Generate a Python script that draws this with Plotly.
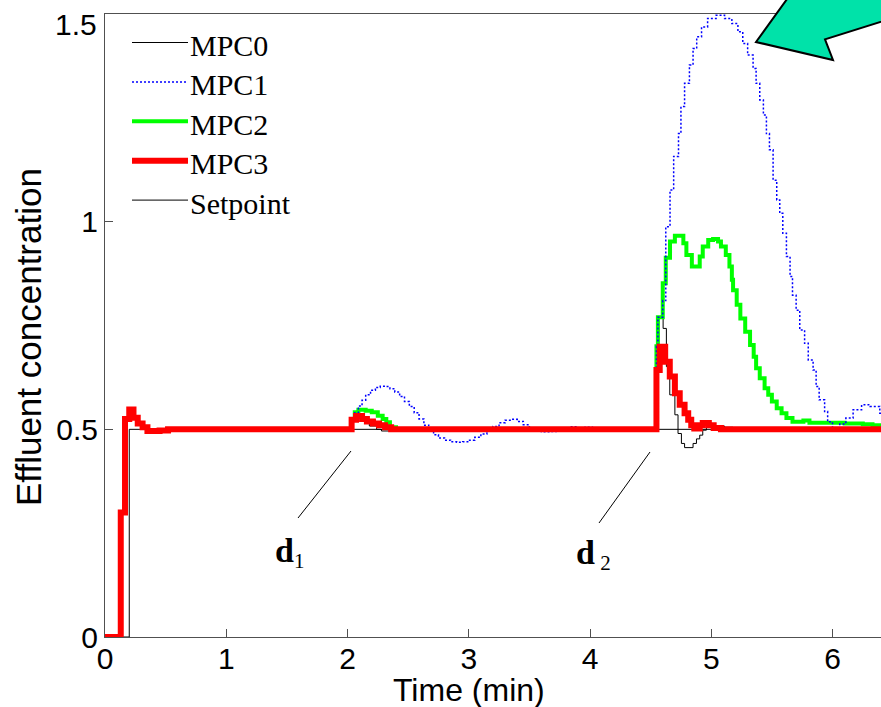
import plotly.graph_objects as go

# ---- data (time in min, effluent concentration) ----
t_setpoint = [0, 0.2, 6.4]
y_setpoint = [0, 0.5, 0.5]

t_mpc0 = [0, 0.13, 0.165, 0.2, 0.235, 0.27, 0.31, 0.35, 0.45, 0.52,
          2.034, 2.07, 2.12, 2.18, 2.24, 2.28, 2.38,
          4.548, 4.567, 4.603, 4.63, 4.658, 4.70, 4.726, 4.754, 4.78, 4.85,
          4.878, 4.905, 4.93, 4.96, 5.11, 5.18, 6.4]
y_mpc0 = [0, 0.30, 0.525, 0.548, 0.528, 0.514, 0.505, 0.496, 0.497, 0.5,
          0.525, 0.535, 0.52, 0.508, 0.5, 0.496, 0.5,
          0.643, 0.771, 0.743, 0.651, 0.583, 0.535, 0.49, 0.466, 0.456, 0.466,
          0.477, 0.486, 0.498, 0.508, 0.505, 0.5, 0.5]

t_mpc1 = [0, 0.13, 0.165, 0.2, 0.235, 0.27, 0.31, 0.35, 0.45, 0.52,
          2.034, 2.06, 2.09, 2.12, 2.15, 2.19, 2.23, 2.27, 2.31, 2.35, 2.39,
          2.43, 2.47, 2.51, 2.55, 2.59, 2.63, 2.67, 2.71, 2.75, 2.80, 2.85,
          2.90, 2.95, 3.00, 3.05, 3.10, 3.15, 3.20, 3.25, 3.30, 3.35, 3.40,
          3.45, 3.50, 3.55, 3.60, 3.66, 3.72, 3.78, 3.84, 3.90, 3.96, 4.02,
          4.548, 4.56, 4.60, 4.625, 4.66, 4.69, 4.73, 4.75, 4.78, 4.82, 4.85,
          4.88, 4.92, 4.97, 5.04, 5.11, 5.17, 5.22, 5.26, 5.30, 5.345, 5.37,
          5.40, 5.43, 5.455, 5.48, 5.51, 5.54, 5.565, 5.59, 5.62, 5.65, 5.67,
          5.70, 5.73, 5.77, 5.80, 5.84, 5.865, 5.89, 5.935, 5.96, 6.0, 6.06,
          6.11, 6.17, 6.24, 6.31, 6.39, 6.4]
y_mpc1 = [0, 0.30, 0.525, 0.548, 0.528, 0.514, 0.505, 0.496, 0.497, 0.5,
          0.525, 0.540, 0.556, 0.570, 0.583, 0.594, 0.601, 0.604, 0.603, 0.598,
          0.590, 0.579, 0.567, 0.555, 0.540, 0.525, 0.510, 0.497, 0.487, 0.479,
          0.474, 0.470, 0.469, 0.470, 0.474, 0.481, 0.489, 0.498, 0.507, 0.516,
          0.522, 0.524, 0.519, 0.511, 0.503, 0.497, 0.494, 0.495, 0.498, 0.503,
          0.506, 0.502, 0.505, 0.5,
          0.70, 0.77, 0.81, 0.988, 1.076, 1.157, 1.212, 1.277, 1.333, 1.377,
          1.417, 1.445, 1.469, 1.489, 1.497, 1.489, 1.477, 1.457, 1.429, 1.401,
          1.369, 1.333, 1.293, 1.257, 1.212, 1.173, 1.10, 1.052, 1.02, 0.972,
          0.916, 0.868, 0.823, 0.787, 0.739, 0.707, 0.667, 0.643, 0.603, 0.571,
          0.543, 0.518, 0.503, 0.513, 0.527, 0.547, 0.559, 0.555, 0.539, 0.539]

t_mpc2 = [0, 0.13, 0.165, 0.2, 0.235, 0.27, 0.31, 0.35, 0.45, 0.52,
          2.034, 2.06, 2.09, 2.15, 2.2, 2.25, 2.29, 2.32, 2.35, 2.4,
          4.548, 4.56, 4.6, 4.625, 4.66, 4.70, 4.74, 4.77, 4.795, 4.84, 4.905,
          4.93, 4.975, 5.015, 5.056, 5.08, 5.12, 5.15, 5.17, 5.18, 5.21, 5.24,
          5.28, 5.32, 5.35, 5.37, 5.40, 5.44, 5.47, 5.50, 5.54, 5.58, 5.62,
          5.67, 5.76, 5.81, 6.1, 6.25, 6.33, 6.4]
y_mpc2 = [0, 0.30, 0.525, 0.548, 0.528, 0.514, 0.505, 0.496, 0.497, 0.5,
          0.525, 0.541, 0.547, 0.545, 0.541, 0.533, 0.525, 0.517, 0.505, 0.5,
          0.70, 0.77, 0.852, 0.913, 0.952, 0.966, 0.966, 0.948, 0.92, 0.892,
          0.916, 0.94, 0.956, 0.958, 0.952, 0.94, 0.92, 0.892, 0.86, 0.835,
          0.80, 0.767, 0.735, 0.703, 0.675, 0.647, 0.623, 0.599, 0.583, 0.567,
          0.551, 0.539, 0.527, 0.518, 0.521, 0.516, 0.514, 0.512, 0.51, 0.51]

t_mpc3 = [0, 0.13, 0.165, 0.2, 0.235, 0.27, 0.31, 0.35, 0.45, 0.52,
          2.034, 2.07, 2.12, 2.16, 2.21, 2.26, 2.31, 2.36,
          4.548, 4.575, 4.62, 4.658, 4.70, 4.74, 4.78, 4.81, 4.835, 4.86,
          4.905, 4.93, 4.98, 5.02, 5.08, 6.4]
y_mpc3 = [0, 0.30, 0.525, 0.548, 0.528, 0.514, 0.505, 0.496, 0.497, 0.5,
          0.523, 0.532, 0.525, 0.519, 0.514, 0.51, 0.505, 0.5,
          0.643, 0.699, 0.663, 0.627, 0.587, 0.559, 0.539, 0.523, 0.51, 0.502,
          0.51, 0.515, 0.51, 0.503, 0.5, 0.5]

x_ticks = [0, 1, 2, 3, 4, 5, 6]
y_ticks = [0, 0.5, 1]
y_ticktext = ["0", "0.5", "1"]

# ---- figure geometry (pixels) ----
W, H = 881, 707
ML, MR, MT, MB = 105, 0, 14, 70


def paper(px, py):
    """Figure pixel position -> paper coordinates."""
    return (px - ML) / (W - ML - MR), (H - MB - py) / (H - MT - MB)


series = {
    "MPC0": dict(t=t_mpc0, y=y_mpc0, color="black", width=1, dash="solid"),
    "MPC1": dict(t=t_mpc1, y=y_mpc1, color="#0000ff", width=1.5, dash="2px,2px"),
    "MPC2": dict(t=t_mpc2, y=y_mpc2, color="#00ff00", width=4, dash="solid"),
    "MPC3": dict(t=t_mpc3, y=y_mpc3, color="#ff0000", width=6, dash="solid"),
    "Setpoint": dict(t=t_setpoint, y=y_setpoint, color="black", width=1, dash="solid"),
}
draw_order = ["Setpoint", "MPC0", "MPC2", "MPC1", "MPC3"]
legend_order = ["MPC0", "MPC1", "MPC2", "MPC3", "Setpoint"]

fig = go.Figure()
for name in draw_order:
    s = series[name]
    fig.add_trace(go.Scatter(
        x=s["t"], y=s["y"], name=name, mode="lines", line_shape="hv",
        line=dict(color=s["color"], width=s["width"], dash=s["dash"]),
        showlegend=False,
    ))

shapes = []
annotations = []

# legend entries: sample line followed directly by the name
for i, name in enumerate(legend_order):
    s = series[name]
    ly = 42.5 + 39.4 * i
    x0, y0 = paper(132, ly)
    x1, _ = paper(188, ly)
    shapes.append(dict(type="line", xref="paper", yref="paper",
                       x0=x0, y0=y0, x1=x1, y1=y0,
                       line=dict(color=s["color"], width=s["width"], dash=s["dash"])))
    tx, ty = paper(188, ly + 3)
    annotations.append(dict(xref="paper", yref="paper", x=tx, y=ty,
                            xanchor="left", yanchor="middle", showarrow=False,
                            text=name, font=dict(family="Liberation Serif", size=30, color="black")))

# disturbance markers d1 and d2
d_font = dict(family="Liberation Serif", size=30, color="black")
for label, (tx, ty), (lx0, ly0, lx1, ly1) in [
    ('<span style="font-size:34px"><b>d</b></span><sub>1</sub>', (273, 552), (298, 518, 351, 451)),
    ('<span style="font-size:34px"><b>d</b></span><sub> 2</sub>', (574, 554), (599, 523, 650, 452)),
]:
    a0 = paper(lx0, ly0)
    a1 = paper(lx1, ly1)
    shapes.append(dict(type="line", xref="paper", yref="paper",
                       x0=a0[0], y0=a0[1], x1=a1[0], y1=a1[1],
                       line=dict(color="black", width=1)))
    px_, py_ = paper(tx, ty)
    annotations.append(dict(xref="paper", yref="paper", x=px_, y=py_,
                            xanchor="left", yanchor="middle", showarrow=False,
                            text=label, font=d_font))

# big pointer arrow at the upper right
arrow_pts = [(756, 42), (795, -12), (900, -12), (900, 15.7), (825, 39.3), (833, 60)]
pp = [paper(x, y) for x, y in arrow_pts]
path = "M " + " L ".join(f"{x:.5f},{y:.5f}" for x, y in pp) + " Z"
shapes.append(dict(type="path", xref="paper", yref="paper", path=path,
                   fillcolor="#00e2a9", line=dict(color="black", width=2), layer="above"))

# axis titles and top tick label
ax_font = dict(family="Liberation Sans", size=30, color="black")
tx, ty = paper(469, 690)
annotations.append(dict(xref="paper", yref="paper", x=tx, y=ty, showarrow=False,
                        xanchor="center", yanchor="middle", text="Time (min)",
                        font=dict(family="Liberation Sans", size=32, color="black")))
tx, ty = paper(28, 337)
annotations.append(dict(xref="paper", yref="paper", x=tx, y=ty, showarrow=False,
                        xanchor="center", yanchor="middle", text="Effluent concentration",
                        textangle=-90, font=dict(family="Liberation Sans", size=35, color="black")))
tx, ty = paper(99, 25)
annotations.append(dict(xref="paper", yref="paper", x=tx, y=ty, showarrow=False,
                        xanchor="right", yanchor="middle", text="1.5", font=ax_font))

fig.update_layout(
    width=W, height=H,
    margin=dict(l=ML, r=MR, t=MT, b=MB),
    paper_bgcolor="white", plot_bgcolor="white",
    showlegend=False,
    shapes=shapes, annotations=annotations,
    xaxis=dict(range=[0, 6.4], tickvals=x_ticks, ticks="inside", ticklen=8,
               tickcolor="#505050", showline=True, mirror=True, linecolor="#505050",
               linewidth=1, showgrid=False, zeroline=False, tickfont=ax_font,
               ticklabelstandoff=-5),
    yaxis=dict(range=[0, 1.5], tickvals=y_ticks, ticktext=y_ticktext, ticks="inside",
               ticklen=8, tickcolor="#505050", showline=True, mirror=False,
               linecolor="#505050", linewidth=1, showgrid=False, zeroline=False,
               tickfont=ax_font, ticklabelstandoff=0),
)

fig.write_html("out.html")
